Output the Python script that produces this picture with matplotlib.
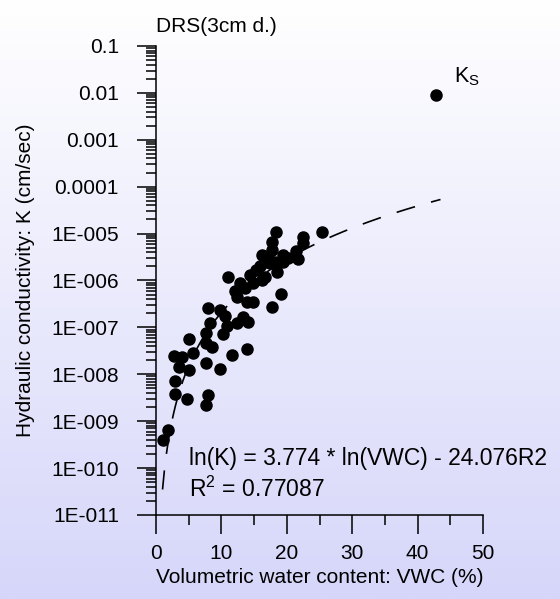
import numpy as np
import matplotlib
matplotlib.use('Agg')
import matplotlib.pyplot as plt
from matplotlib.colors import LinearSegmentedColormap
from matplotlib.ticker import LogLocator, MultipleLocator, NullFormatter

plt.rcParams['font.family'] = ['Liberation Sans', 'DejaVu Sans']
plt.rcParams['mathtext.fontset'] = 'custom'
plt.rcParams['mathtext.rm'] = 'Liberation Sans'
plt.rcParams['mathtext.it'] = 'Liberation Sans:italic'
plt.rcParams['mathtext.default'] = 'regular'

# measured points: VWC (%) and log10 of K (cm/sec)
vwc = np.array([
    1.07, 1.83, 2.91, 2.91, 4.74, 7.95, 7.65, 3.52, 5.05, 2.75,
    3.98, 5.66, 5.05, 7.65, 9.79, 11.62, 13.91, 7.65, 8.56, 7.65,
    10.24, 8.26, 10.86, 12.39, 14.07, 13.30, 10.55, 9.79, 7.95, 17.74,
    13.91, 14.83, 12.39, 12.08, 19.11, 12.84, 11.01, 14.37, 16.67, 18.50,
    15.90, 17.43, 16.97, 16.21, 19.42, 21.41, 21.71, 17.74, 17.74, 18.35,
    22.48, 22.48, 25.38, 15.29, 16.21, 13.61, 18.20, 20.18, 17.13, 14.83,
    19.42,
])
log_k = np.array([
    -9.40, -9.19, -8.42, -8.14, -8.53, -8.44, -8.65, -7.84, -7.91, -7.61,
    -7.63, -7.55, -7.25, -7.76, -7.89, -7.59, -7.46, -7.33, -7.42, -7.12,
    -7.14, -6.91, -6.97, -6.91, -6.88, -6.78, -6.76, -6.63, -6.59, -6.57,
    -6.46, -6.46, -6.35, -6.22, -6.29, -6.05, -5.93, -5.88, -5.93, -5.82,
    -5.69, -5.63, -5.61, -5.46, -5.46, -5.37, -5.54, -5.35, -5.18, -4.97,
    -5.20, -5.07, -4.97, -5.78, -5.99, -6.16, -5.61, -5.52, -5.52, -6.05,
    -5.61,
])
k = 10 ** log_k

# saturated conductivity point
ks_vwc = 42.8
ks_k = 0.009

# regression ln(K) = a * ln(VWC) + b
fit_a = 3.774
fit_b = -24.076
fit_start, fit_end = 1.0, 43.5

ytick_vals = [1e-1, 1e-2, 1e-3, 1e-4, 1e-5, 1e-6, 1e-7, 1e-8, 1e-9, 1e-10, 1e-11]
ytick_labels = ['0.1', '0.01', '0.001', '0.0001', '1E-005', '1E-006',
                '1E-007', '1E-008', '1E-009', '1E-010', '1E-011']

fig = plt.figure(figsize=(5.6, 5.99), dpi=100)

# gradient background
bg = fig.add_axes([0, 0, 1, 1], zorder=-10)
grad = np.linspace(0, 1, 256).reshape(-1, 1)
cmap = LinearSegmentedColormap.from_list('bg', ['#ffffff', '#d6d6fa'])
bg.imshow(grad, aspect='auto', cmap=cmap, extent=[0, 1, 0, 1], origin='upper')
bg.axis('off')

ax = fig.add_axes([156 / 560, 1 - 515 / 599, 327 / 560, 469 / 599])
ax.patch.set_alpha(0)

fx = np.linspace(fit_start, fit_end, 300)
fy = np.exp(fit_a * np.log(fx) + fit_b)
ax.plot(fx, fy, color='black', lw=1.2, ls=(0, (11.5, 10)))

ax.plot(vwc, k, 'o', color='black', ms=8, ls='none')
ax.plot([ks_vwc], [ks_k], 'o', color='black', ms=8, ls='none')

ax.set_yscale('log')
ax.set_xlim(0, 50)
ax.set_ylim(1e-11, 0.1)
ax.set_yticks(ytick_vals, ytick_labels)
ax.yaxis.set_minor_locator(LogLocator(base=10, subs=np.arange(2, 10), numticks=100))
ax.yaxis.set_minor_formatter(NullFormatter())
ax.xaxis.set_major_locator(MultipleLocator(10))
ax.xaxis.set_minor_locator(MultipleLocator(5))

ax.tick_params(which='major', length=13.7, width=1.1, labelsize=15, color='black')
ax.tick_params(which='minor', length=7.2, width=1.1, color='black')
ax.tick_params(axis='y', which='major', pad=13)
ax.tick_params(axis='x', which='major', pad=7)

for s in ['top', 'right']:
    ax.spines[s].set_visible(False)
for s in ['left', 'bottom']:
    ax.spines[s].set_linewidth(1.1)

ax.set_xlabel('Volumetric water content: VWC (%)', fontsize=15)
ax.set_ylabel('Hydraulic conductivity: K (cm/sec)', fontsize=15)
ax.xaxis.set_label_coords(0.5, -0.113)
ax.yaxis.set_label_coords(-0.37, 0.5)
ax.set_title('DRS(3cm d.)', loc='left', fontsize=15, pad=10)

ax.text(0.101, 0.1066, 'ln(K) = 3.774 * ln(VWC) - 24.076R2', transform=ax.transAxes,
        fontsize=16.5, va='baseline', ha='left')
ax.text(0.101, 0.0384, 'R$^{2}$ = 0.77087', transform=ax.transAxes,
        fontsize=16.5, va='baseline', ha='left')
ax.text(45.6, 10 ** -1.77, 'K$_{S}$', fontsize=15.5, va='baseline', ha='left')

fig.savefig('out.png', dpi=100)
